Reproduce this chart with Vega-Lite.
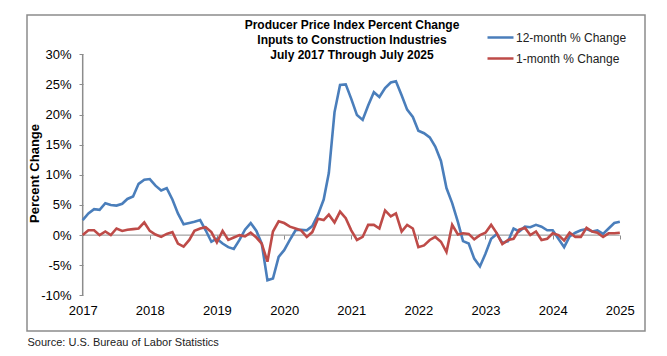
{
  "$schema": "https://vega.github.io/schema/vega-lite/v6.json",
  "autosize": "none",
  "width": 618,
  "height": 316,
  "padding": {"left": 27, "top": 15, "right": 22, "bottom": 25},
  "background": "white",
  "config": {
    "view": {"stroke": "#8c8c8c", "strokeWidth": 1.5, "fill": "white"},
    "font": "Liberation Sans",
    "axisY": {
      "labelExpr": "datum.value + '%'",
      "labelFont": "Liberation Sans",
      "labelFontSize": 13,
      "labelColor": "black",
      "labelPadding": 8,
      "labelOverlap": false,
      "domain": false,
      "ticks": true,
      "tickSize": 4,
      "tickColor": "#8c8c8c",
      "grid": false,
      "offset": -56,
      "titleFont": "Liberation Sans",
      "titleFontSize": 13,
      "titleFontWeight": "bold",
      "titleColor": "black",
      "titleAngle": -90,
      "titleBaseline": "middle",
      "titleX": -49
    }
  },
  "title": {
    "text": ["Producer Price Index Percent Change", "Inputs to Construction Industries", "July 2017 Through July 2025"],
    "font": "Liberation Sans",
    "fontSize": 12,
    "fontWeight": "bold",
    "color": "black",
    "anchor": "middle",
    "frame": "group",
    "offset": -47,
    "dx": 16,
    "lineHeight": 15
  },
  "data": {
    "values": [
      {"date": "2017-07-01", "12-month % Change": 2.5, "1-month % Change": 0.0},
      {"date": "2017-08-01", "12-month % Change": 3.6, "1-month % Change": 0.8},
      {"date": "2017-09-01", "12-month % Change": 4.3, "1-month % Change": 0.8},
      {"date": "2017-10-01", "12-month % Change": 4.2, "1-month % Change": 0.0},
      {"date": "2017-11-01", "12-month % Change": 5.3, "1-month % Change": 0.6},
      {"date": "2017-12-01", "12-month % Change": 5.0, "1-month % Change": 0.0},
      {"date": "2018-01-01", "12-month % Change": 4.9, "1-month % Change": 1.1},
      {"date": "2018-02-01", "12-month % Change": 5.2, "1-month % Change": 0.7},
      {"date": "2018-03-01", "12-month % Change": 6.0, "1-month % Change": 0.9},
      {"date": "2018-04-01", "12-month % Change": 6.4, "1-month % Change": 1.0},
      {"date": "2018-05-01", "12-month % Change": 8.5, "1-month % Change": 1.1},
      {"date": "2018-06-01", "12-month % Change": 9.2, "1-month % Change": 2.1},
      {"date": "2018-07-01", "12-month % Change": 9.3, "1-month % Change": 0.7},
      {"date": "2018-08-01", "12-month % Change": 8.2, "1-month % Change": 0.1},
      {"date": "2018-09-01", "12-month % Change": 7.4, "1-month % Change": -0.3},
      {"date": "2018-10-01", "12-month % Change": 7.8, "1-month % Change": 0.2},
      {"date": "2018-11-01", "12-month % Change": 5.9, "1-month % Change": 0.5},
      {"date": "2018-12-01", "12-month % Change": 3.6, "1-month % Change": -1.4},
      {"date": "2019-01-01", "12-month % Change": 1.8, "1-month % Change": -1.9},
      {"date": "2019-02-01", "12-month % Change": 2.0, "1-month % Change": -0.8},
      {"date": "2019-03-01", "12-month % Change": 2.2, "1-month % Change": 0.7},
      {"date": "2019-04-01", "12-month % Change": 2.5, "1-month % Change": 1.1},
      {"date": "2019-05-01", "12-month % Change": 0.8, "1-month % Change": 1.3},
      {"date": "2019-06-01", "12-month % Change": -1.1, "1-month % Change": 0.5},
      {"date": "2019-07-01", "12-month % Change": -0.6, "1-month % Change": -1.2},
      {"date": "2019-08-01", "12-month % Change": -1.4, "1-month % Change": 0.7},
      {"date": "2019-09-01", "12-month % Change": -2.0, "1-month % Change": -0.8},
      {"date": "2019-10-01", "12-month % Change": -2.3, "1-month % Change": -0.4},
      {"date": "2019-11-01", "12-month % Change": -0.8, "1-month % Change": 0.0},
      {"date": "2019-12-01", "12-month % Change": 0.9, "1-month % Change": -0.2},
      {"date": "2020-01-01", "12-month % Change": 2.0, "1-month % Change": 0.4},
      {"date": "2020-02-01", "12-month % Change": 0.7, "1-month % Change": -0.4},
      {"date": "2020-03-01", "12-month % Change": -1.4, "1-month % Change": -1.4},
      {"date": "2020-04-01", "12-month % Change": -7.5, "1-month % Change": -4.4},
      {"date": "2020-05-01", "12-month % Change": -7.2, "1-month % Change": 0.6},
      {"date": "2020-06-01", "12-month % Change": -3.6, "1-month % Change": 2.3},
      {"date": "2020-07-01", "12-month % Change": -2.5, "1-month % Change": 2.0},
      {"date": "2020-08-01", "12-month % Change": -0.8, "1-month % Change": 1.4},
      {"date": "2020-09-01", "12-month % Change": 0.8, "1-month % Change": 1.1},
      {"date": "2020-10-01", "12-month % Change": 0.9, "1-month % Change": 0.8},
      {"date": "2020-11-01", "12-month % Change": 0.8, "1-month % Change": -0.3},
      {"date": "2020-12-01", "12-month % Change": 1.5, "1-month % Change": 0.5},
      {"date": "2021-01-01", "12-month % Change": 3.4, "1-month % Change": 2.7},
      {"date": "2021-02-01", "12-month % Change": 5.9, "1-month % Change": 2.5},
      {"date": "2021-03-01", "12-month % Change": 10.3, "1-month % Change": 3.4},
      {"date": "2021-04-01", "12-month % Change": 20.4, "1-month % Change": 2.1},
      {"date": "2021-05-01", "12-month % Change": 24.9, "1-month % Change": 3.9},
      {"date": "2021-06-01", "12-month % Change": 25.0, "1-month % Change": 2.8},
      {"date": "2021-07-01", "12-month % Change": 22.6, "1-month % Change": 0.8},
      {"date": "2021-08-01", "12-month % Change": 19.9, "1-month % Change": -0.8},
      {"date": "2021-09-01", "12-month % Change": 19.1, "1-month % Change": -0.3},
      {"date": "2021-10-01", "12-month % Change": 21.5, "1-month % Change": 1.7},
      {"date": "2021-11-01", "12-month % Change": 23.7, "1-month % Change": 1.7},
      {"date": "2021-12-01", "12-month % Change": 22.9, "1-month % Change": 1.1},
      {"date": "2022-01-01", "12-month % Change": 24.4, "1-month % Change": 4.1},
      {"date": "2022-02-01", "12-month % Change": 25.3, "1-month % Change": 3.1},
      {"date": "2022-03-01", "12-month % Change": 25.5, "1-month % Change": 3.6},
      {"date": "2022-04-01", "12-month % Change": 23.2, "1-month % Change": 0.6},
      {"date": "2022-05-01", "12-month % Change": 20.8, "1-month % Change": 1.7},
      {"date": "2022-06-01", "12-month % Change": 19.6, "1-month % Change": 1.1},
      {"date": "2022-07-01", "12-month % Change": 17.3, "1-month % Change": -2.0},
      {"date": "2022-08-01", "12-month % Change": 16.9, "1-month % Change": -1.7},
      {"date": "2022-09-01", "12-month % Change": 16.2, "1-month % Change": -0.8},
      {"date": "2022-10-01", "12-month % Change": 14.7, "1-month % Change": -0.3},
      {"date": "2022-11-01", "12-month % Change": 12.3, "1-month % Change": -1.1},
      {"date": "2022-12-01", "12-month % Change": 7.8, "1-month % Change": -2.8},
      {"date": "2023-01-01", "12-month % Change": 5.3, "1-month % Change": 1.7},
      {"date": "2023-02-01", "12-month % Change": 2.2, "1-month % Change": 0.1},
      {"date": "2023-03-01", "12-month % Change": -1.0, "1-month % Change": 0.3},
      {"date": "2023-04-01", "12-month % Change": -1.4, "1-month % Change": 0.2},
      {"date": "2023-05-01", "12-month % Change": -3.9, "1-month % Change": -0.7},
      {"date": "2023-06-01", "12-month % Change": -5.2, "1-month % Change": 0.0},
      {"date": "2023-07-01", "12-month % Change": -3.1, "1-month % Change": 0.4},
      {"date": "2023-08-01", "12-month % Change": -0.6, "1-month % Change": 1.7},
      {"date": "2023-09-01", "12-month % Change": 0.2, "1-month % Change": 0.3},
      {"date": "2023-10-01", "12-month % Change": -1.3, "1-month % Change": -1.5},
      {"date": "2023-11-01", "12-month % Change": -1.0, "1-month % Change": -0.8},
      {"date": "2023-12-01", "12-month % Change": 1.1, "1-month % Change": -0.6},
      {"date": "2024-01-01", "12-month % Change": 0.6, "1-month % Change": 0.9},
      {"date": "2024-02-01", "12-month % Change": 1.4, "1-month % Change": 1.2},
      {"date": "2024-03-01", "12-month % Change": 1.3, "1-month % Change": 0.0},
      {"date": "2024-04-01", "12-month % Change": 1.7, "1-month % Change": 0.6},
      {"date": "2024-05-01", "12-month % Change": 1.4, "1-month % Change": -0.8},
      {"date": "2024-06-01", "12-month % Change": 0.8, "1-month % Change": -0.6},
      {"date": "2024-07-01", "12-month % Change": 0.8, "1-month % Change": 0.3},
      {"date": "2024-08-01", "12-month % Change": -0.6, "1-month % Change": 0.0},
      {"date": "2024-09-01", "12-month % Change": -2.0, "1-month % Change": -0.9},
      {"date": "2024-10-01", "12-month % Change": -0.2, "1-month % Change": 0.4},
      {"date": "2024-11-01", "12-month % Change": 0.4, "1-month % Change": -0.3},
      {"date": "2024-12-01", "12-month % Change": 0.8, "1-month % Change": -0.3},
      {"date": "2025-01-01", "12-month % Change": 1.0, "1-month % Change": 1.2},
      {"date": "2025-02-01", "12-month % Change": 0.6, "1-month % Change": 0.6},
      {"date": "2025-03-01", "12-month % Change": 0.8, "1-month % Change": 0.4},
      {"date": "2025-04-01", "12-month % Change": 0.2, "1-month % Change": -0.3},
      {"date": "2025-05-01", "12-month % Change": 1.1, "1-month % Change": 0.3},
      {"date": "2025-06-01", "12-month % Change": 2.0, "1-month % Change": 0.3},
      {"date": "2025-07-01", "12-month % Change": 2.2, "1-month % Change": 0.4}
    ]
  },
  "resolve": {"scale": {"x": "shared", "y": "shared"}, "axis": {"x": "independent"}},
  "layer": [
    {
      "data": {"values": [{}]},
      "mark": {"type": "rule", "color": "#8c8c8c", "strokeWidth": 1},
      "encoding": {
        "x": {
          "datum": {"year": 2017, "month": 7, "date": 1, "utc": true},
          "type": "temporal",
          "scale": {"type": "utc", "domain": [{"year": 2016, "month": 9, "date": 1, "utc": true}, {"year": 2025, "month": 11, "date": 15, "utc": true}], "nice": false},
          "axis": {
            "orient": "bottom",
            "values": [
              {"year": 2018, "month": 7, "date": 1, "utc": true},
              {"year": 2019, "month": 7, "date": 1, "utc": true},
              {"year": 2020, "month": 7, "date": 1, "utc": true},
              {"year": 2021, "month": 7, "date": 1, "utc": true},
              {"year": 2022, "month": 7, "date": 1, "utc": true},
              {"year": 2023, "month": 7, "date": 1, "utc": true},
              {"year": 2024, "month": 7, "date": 1, "utc": true},
              {"year": 2025, "month": 7, "date": 1, "utc": true}
            ],
            "labels": false,
            "domain": false,
            "grid": false,
            "ticks": true,
            "tickSize": 4,
            "tickColor": "#8c8c8c",
            "offset": -96,
            "title": null
          }
        },
        "x2": {"datum": {"year": 2025, "month": 7, "date": 1, "utc": true}},
        "y": {
          "datum": 0,
          "type": "quantitative",
          "scale": {"domain": [-15.9, 36.5], "nice": false, "zero": false},
          "axis": {"title": "Percent Change", "values": [-10, -5, 0, 5, 10, 15, 20, 25, 30]}
        }
      }
    },
    {
      "data": {"values": [{}]},
      "mark": {"type": "rule", "color": "#8c8c8c", "strokeWidth": 1.5},
      "encoding": {
        "x": {"datum": {"year": 2017, "month": 7, "date": 1, "utc": true}, "type": "temporal", "axis": null},
        "y": {"datum": -10, "type": "quantitative", "axis": {"title": "Percent Change", "values": [-10, -5, 0, 5, 10, 15, 20, 25, 30]}},
        "y2": {"datum": 30}
      }
    },
    {
      "transform": [{"fold": ["12-month % Change", "1-month % Change"], "as": ["series", "value"]}],
      "mark": {"type": "line", "strokeWidth": 2.6},
      "encoding": {
        "x": {
          "field": "date",
          "type": "temporal",
          "axis": {
            "orient": "bottom",
            "values": [
              {"year": 2017, "month": 7, "date": 1, "utc": true},
              {"year": 2018, "month": 7, "date": 1, "utc": true},
              {"year": 2019, "month": 7, "date": 1, "utc": true},
              {"year": 2020, "month": 7, "date": 1, "utc": true},
              {"year": 2021, "month": 7, "date": 1, "utc": true},
              {"year": 2022, "month": 7, "date": 1, "utc": true},
              {"year": 2023, "month": 7, "date": 1, "utc": true},
              {"year": 2024, "month": 7, "date": 1, "utc": true},
              {"year": 2025, "month": 7, "date": 1, "utc": true}
            ],
            "format": "%Y",
            "labelFont": "Liberation Sans",
            "labelFontSize": 13,
            "labelColor": "black",
            "labelPadding": 3,
            "labelOverlap": false,
            "domain": false,
            "ticks": false,
            "grid": false,
            "offset": -30,
            "title": "Source: U.S. Bureau of Labor Statistics",
            "titleFont": "Liberation Sans",
            "titleFontSize": 11,
            "titleFontWeight": "normal",
            "titleColor": "#222222",
            "titleAlign": "left",
            "titleAnchor": "start",
            "titleBaseline": "middle",
            "titleX": 0,
            "titleY": 41
          }
        },
        "y": {
          "field": "value",
          "type": "quantitative",
          "axis": {"title": "Percent Change", "values": [-10, -5, 0, 5, 10, 15, 20, 25, 30]}
        },
        "color": {
          "field": "series",
          "type": "nominal",
          "scale": {"domain": ["12-month % Change", "1-month % Change"], "range": ["#4a7ebb", "#be4b48"]},
          "legend": {
            "orient": "none",
            "legendX": 459,
            "legendY": 8,
            "title": null,
            "symbolType": "stroke",
            "symbolSize": 676,
            "symbolStrokeWidth": 2.5,
            "labelFont": "Liberation Sans",
            "labelFontSize": 12,
            "labelColor": "#222222",
            "labelOffset": 1,
            "rowPadding": -3
          }
        }
      }
    }
  ]
}
